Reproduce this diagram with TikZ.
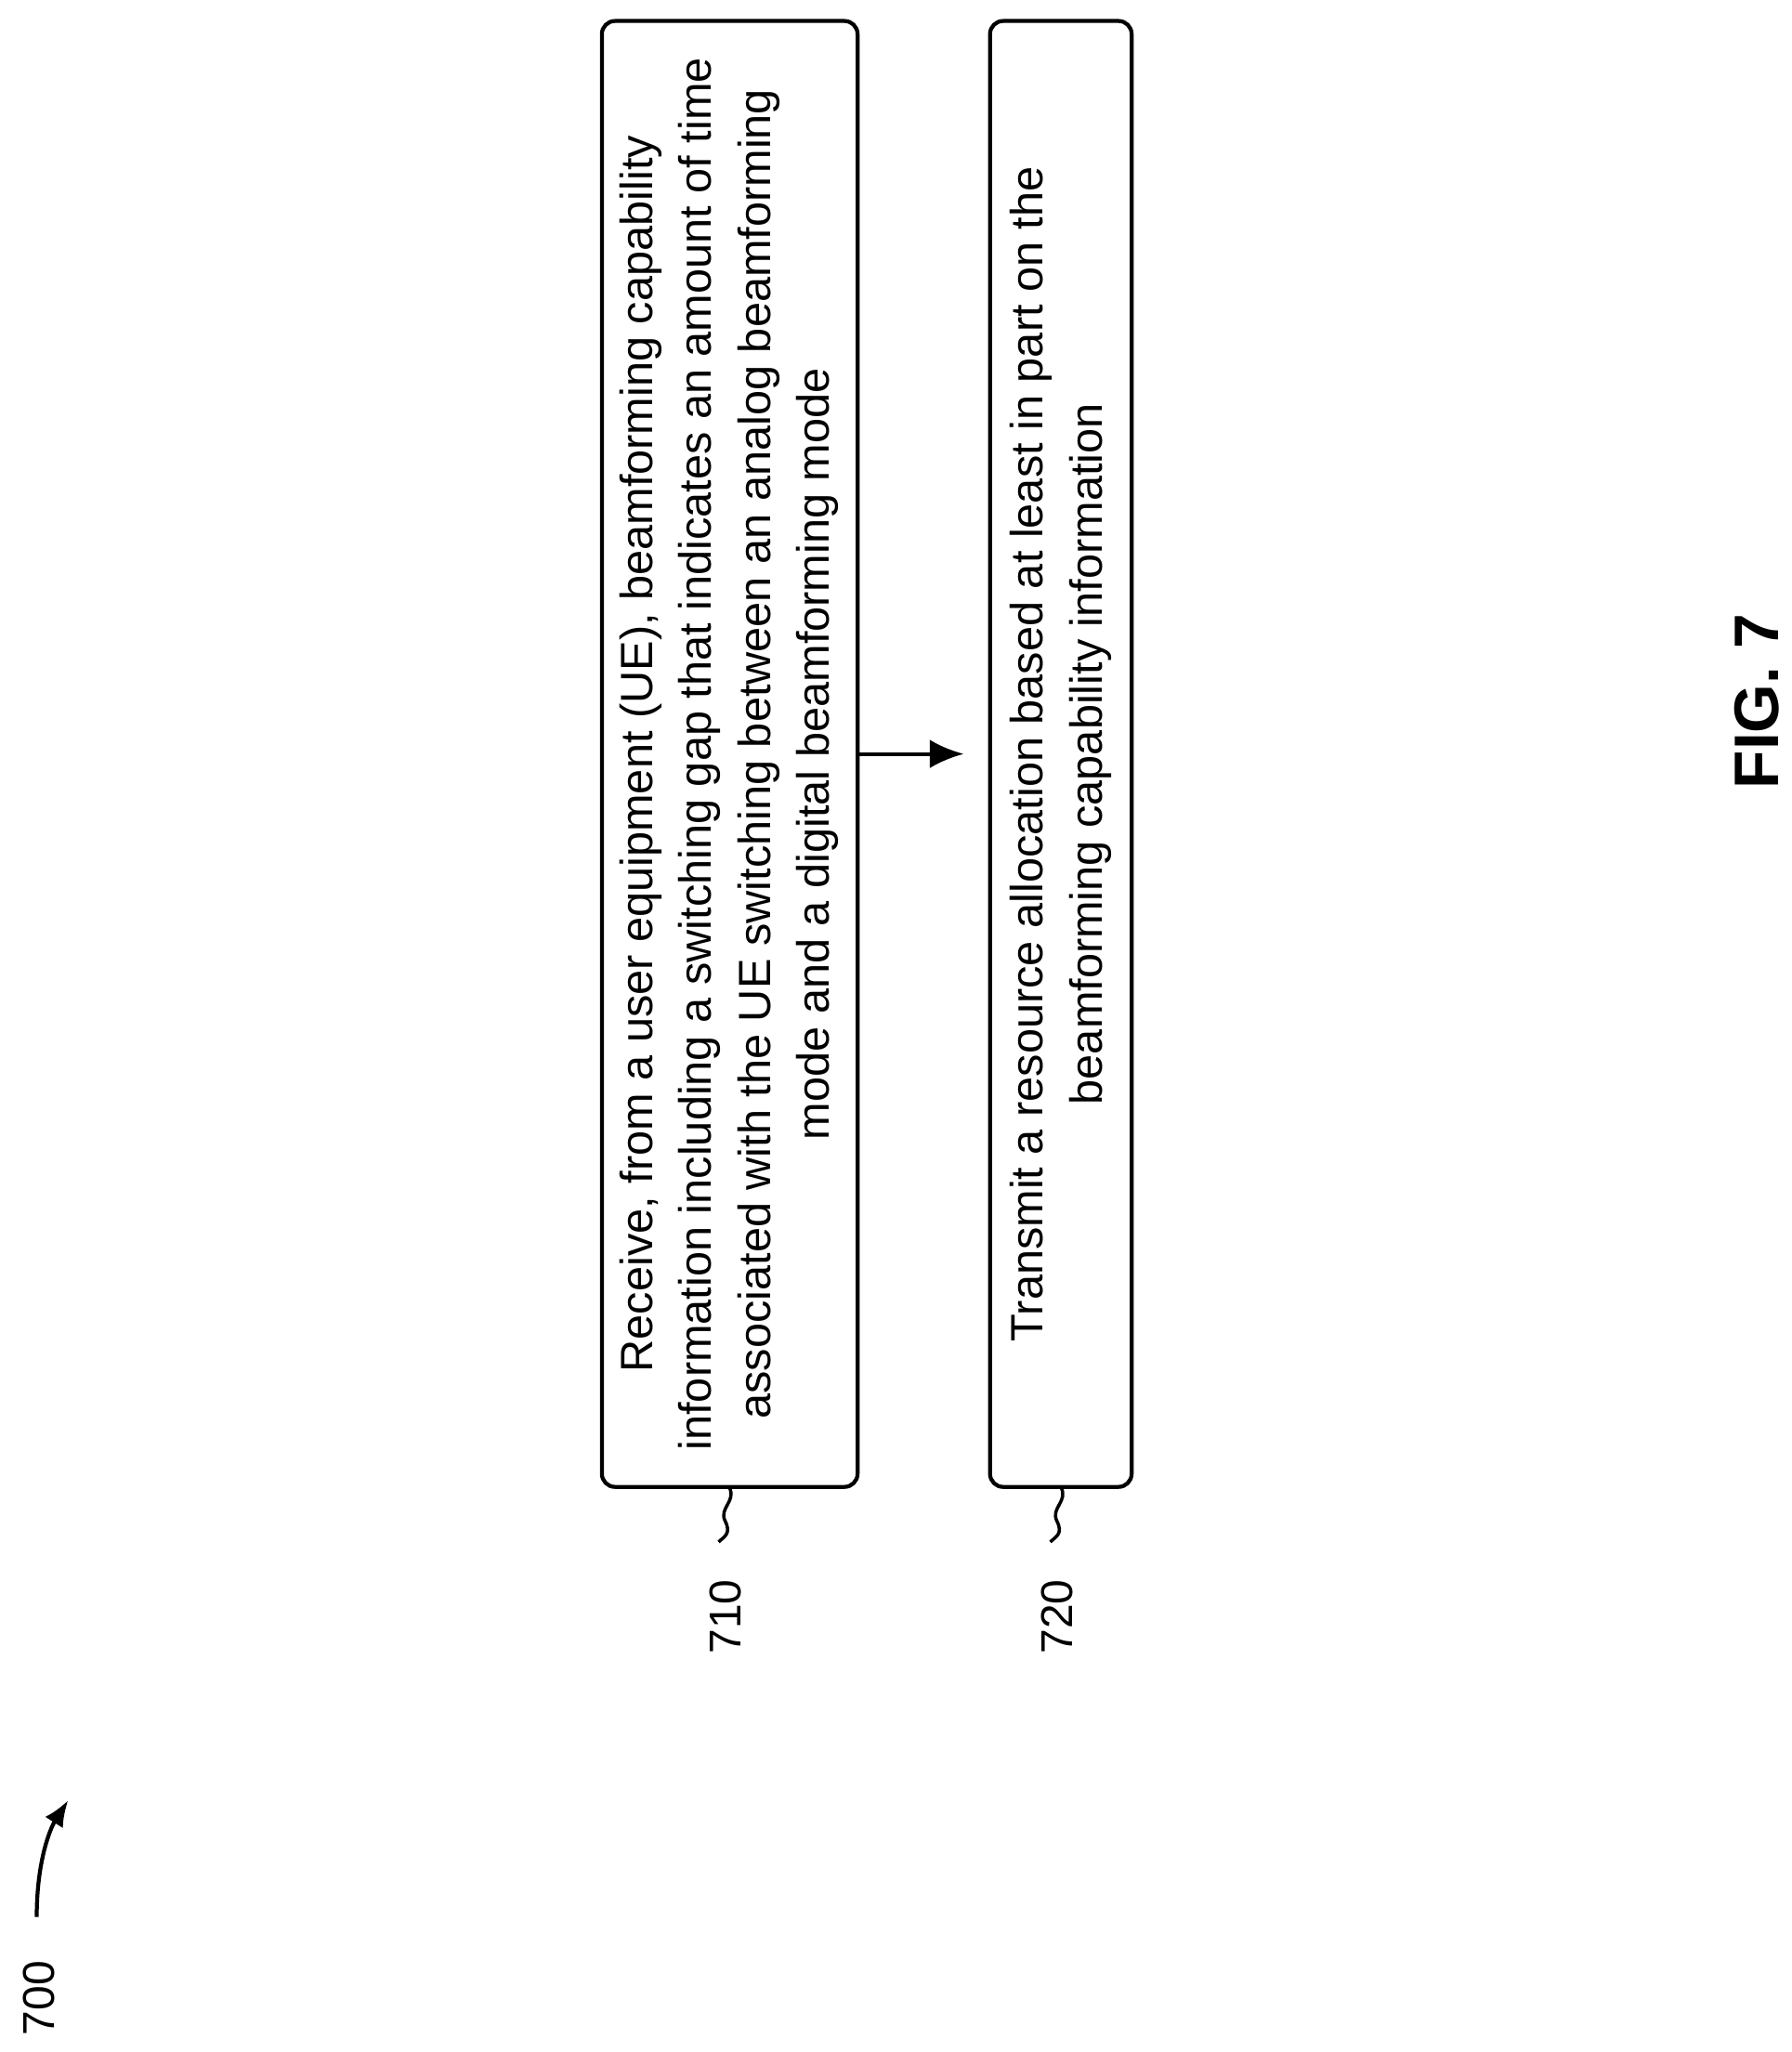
\documentclass[tikz,border=0pt]{standalone}
\usepackage{fontspec}
\setmainfont{Liberation Sans}
\usetikzlibrary{arrows.meta}
\begin{document}
\begin{tikzpicture}[x=1pt,y=-1pt,
  stepbox/.style={draw,line width=3pt,rounded corners=10pt},
  txt/.style={rotate=90,align=center,font=\fontsize{34.5}{45}\selectfont},
  lbl/.style={rotate=90,font=\fontsize{34}{40}\selectfont}]
\useasboundingbox (0,0) rectangle (1366,1565);
\draw[stepbox] (459,16) rectangle (654,1134);
\draw[stepbox] (755,16) rectangle (863,1134);
\node[txt] (t1) at (556,575) {Receive,  from a user equipment (UE), beamforming capability\\information including a switching gap that indicates an amount of time\\associated with the UE switching between an analog beamforming\\mode and a digital beamforming mode};
\node[txt] (t2) at (809,575) {Transmit a resource allocation based at least in part on the\\beamforming capability information};
\coordinate (a1) at (654,575);
\coordinate (a2) at (735,575);
\draw[line width=3pt,-{Latex[length=26pt,width=22pt]}] (a1) -- (a2);
\draw[line width=2.5pt] (556,1134) .. controls (562,1145) and (548,1150) .. (553,1160) .. controls (558,1170) and (552,1172) .. (548,1176);
\draw[line width=2.5pt] (809,1134) .. controls (815,1145) and (801,1150) .. (806,1160) .. controls (811,1170) and (805,1172) .. (801,1176);
\node[lbl] (l1) at (553,1233) {710};
\node[lbl] (l2) at (806,1233) {720};
\node[lbl] (l0) at (30,1524) {700};
\draw[line width=3pt,-{Latex[length=20pt,width=16pt]}] (28,1462) .. controls (28,1420) and (38,1395) .. (52,1373);
\node[rotate=90,font=\bfseries\fontsize{48}{50}\selectfont] (fig) at (1340,535) {FIG. 7};
\end{tikzpicture}
\end{document}
